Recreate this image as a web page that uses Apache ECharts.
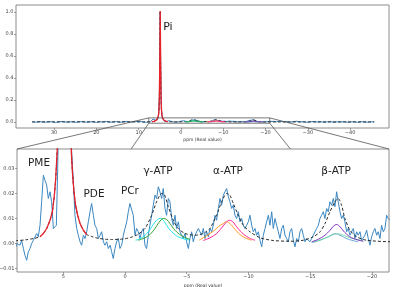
<!DOCTYPE html>
<html>
<head>
<meta charset="utf-8">
<script src="https://cdn.jsdelivr.net/npm/echarts@6/dist/echarts.min.js"></script>
<style>
html, body { margin: 0; padding: 0; background: #fff; }
#chart { width: 400px; height: 287px; }
</style>
</head>
<body>
<div id="chart"></div>
<script>
// measured spectrum, [ppm, intensity]
var blueOuterLeft = [[35.2,0.002],[34.4,-0.003],[33.6,0.004],[32.8,0.000],[32.0,-0.002],[31.2,0.003],[30.4,0.001],
  [29.6,-0.004],[28.8,0.002],[28.0,0.005],[27.2,-0.001],[26.4,0.000],[25.6,0.003],[24.8,-0.003],[24.0,0.002],
  [23.2,0.004],[22.4,-0.002],[21.6,0.001],[20.8,0.003],[20.0,-0.004],[19.2,0.002],[18.4,0.000],[17.6,0.005],
  [16.8,-0.002],[16.0,0.001],[15.2,0.004],[14.4,-0.003],[13.6,0.002],[12.8,0.006],[12.0,-0.001],[11.2,0.003],
  [10.4,0.004],[9.6,0.007]];
var blueZoom = [[8.91,-0.0020],[8.72,0.0000],[8.64,0.0007],[8.50,-0.0007],[8.37,0.0013],[8.23,-0.0020],[8.10,-0.0047],
  [7.96,-0.0067],[7.83,-0.0033],[7.69,-0.0020],[7.56,0.0000],[7.42,0.0013],[7.29,0.0007],[7.15,0.0040],[7.02,0.0027],
  [6.88,0.0073],[6.75,0.0167],[6.61,0.0273],[6.48,0.0253],[6.34,0.0233],[6.21,0.0180],[6.07,0.0207],[5.94,0.0167],
  [5.80,0.0060],[5.67,0.0060],[5.56,0.0073],[5.45,0.030],[5.4,0.045],[5.3,0.065],[5.2,0.11],[5.1,0.23],[5.0,0.55],
  [4.9,1.0],[4.8,0.55],[4.7,0.23],[4.6,0.11],[4.5,0.065],[4.4,0.045],[4.32,0.0367],[4.18,0.0247],[4.05,0.0113],[3.91,0.0060],
  [3.78,0.0033],[3.64,0.0007],[3.51,-0.0007],[3.37,0.0033],[3.24,0.0020],[3.10,0.0047],[2.97,0.0087],[2.83,0.0127],
  [2.70,0.0160],[2.56,0.0113],[2.43,0.0073],[2.29,0.0060],[2.16,0.0020],[2.02,0.0033],[1.89,0.0047],[1.75,0.0007],
  [1.62,-0.0007],[1.48,0.0007],[1.35,-0.0020],[1.20,-0.0007],[1.08,-0.0033],[0.95,-0.0060],[0.81,-0.0020],[0.68,0.0007],
  [0.54,0.0020],[0.41,-0.0020],[0.27,-0.0007],[0.13,0.0033],[0.00,0.0060],[-0.14,0.0087],[-0.27,0.0127],[-0.40,0.0160],
  [-0.54,0.0167],[-0.67,0.0113],[-0.81,0.0033],[-0.94,0.0060],[-1.08,0.0047],[-1.21,0.0020],[-1.35,0.0047],[-1.48,0.0060],
  [-1.62,-0.0007],[-1.75,-0.0020],[-1.89,0.0033],[-2.02,0.0073],[-2.16,0.0113],[-2.29,0.0153],[-2.43,0.0193],[-2.56,0.0180],
  [-2.70,0.0227],[-2.83,0.0207],[-2.97,0.0180],[-3.10,0.0220],[-3.24,0.0140],[-3.37,0.0113],[-3.51,0.0180],[-3.64,0.0167],
  [-3.78,0.0100],[-3.91,0.0073],[-4.05,0.0113],[-4.18,0.0060],[-4.32,0.0087],[-4.45,0.0047],[-4.59,0.0033],[-4.72,0.0020],
  [-4.86,0.0040],[-4.99,0.0007],[-5.13,-0.0020],[-5.26,0.0020],[-5.40,0.0047],[-5.53,0.0007],[-5.67,0.0033],[-5.94,0.0060],
  [-6.07,0.0053],[-6.21,0.0033],[-6.34,0.0060],[-6.48,0.0020],[-6.61,0.0047],[-6.75,0.0027],[-6.88,0.0060],[-7.02,0.0047],
  [-7.15,0.0073],[-7.29,0.0113],[-7.42,0.0093],[-7.56,0.0140],[-7.69,0.0180],[-7.83,0.0153],[-7.96,0.0193],[-8.10,0.0207],
  [-8.23,0.0220],[-8.37,0.0187],[-8.50,0.0167],[-8.64,0.0140],[-8.77,0.0153],[-8.91,0.0113],[-9.04,0.0100],[-9.18,0.0127],
  [-9.31,0.0087],[-9.45,0.0100],[-9.58,0.0073],[-9.72,0.0060],[-9.85,0.0073],[-9.99,0.0087],[-10.12,0.0113],[-10.26,0.0073],
  [-10.39,0.0047],[-10.53,0.0060],[-10.66,0.0033],[-10.80,0.0047],[-10.93,0.0013],[-11.07,-0.0013],[-11.20,0.0033],
  [-11.34,0.0060],[-11.47,0.0087],[-11.61,0.0113],[-11.74,0.0073],[-11.88,0.0127],[-12.01,0.0060],[-12.15,0.0100],
  [-12.28,0.0073],[-12.42,0.0047],[-12.55,0.0020],[-12.69,0.0060],[-12.82,0.0073],[-12.96,0.0033],[-13.09,0.0020],
  [-13.23,0.0007],[-13.36,0.0047],[-13.50,0.0060],[-13.63,0.0013],[-13.77,-0.0013],[-13.90,0.0020],[-14.04,0.0007],
  [-14.17,0.0047],[-14.31,0.0060],[-14.44,0.0033],[-14.58,0.0007],[-14.71,0.0020],[-14.85,0.0027],[-14.98,0.0007],
  [-15.12,0.0020],[-15.25,0.0033],[-15.39,0.0047],[-15.52,0.0060],[-15.66,0.0073],[-15.79,0.0100],[-15.92,0.0113],
  [-16.06,0.0127],[-16.19,0.0100],[-16.33,0.0140],[-16.46,0.0127],[-16.60,0.0167],[-16.73,0.0153],[-16.87,0.0180],
  [-17.00,0.0147],[-17.14,0.0207],[-17.27,0.0167],[-17.41,0.0127],[-17.54,0.0100],[-17.68,0.0113],[-17.81,0.0087],
  [-17.95,0.0047],[-18.08,0.0060],[-18.22,0.0033],[-18.35,0.0047],[-18.49,0.0060],[-18.62,0.0020],[-18.76,0.0047],
  [-18.89,0.0033],[-19.03,0.0047],[-19.16,0.0013],[-19.30,0.0020],[-19.43,0.0033],[-19.57,0.0053],[-19.70,0.0020],
  [-19.84,-0.0007],[-19.97,0.0027],[-20.11,0.0047],[-20.24,0.0060],[-20.38,0.0033],[-20.51,0.0047],[-20.65,0.0020],
  [-20.78,0.0073],[-20.92,0.0047],[-21.05,0.0060],[-21.19,0.0113],[-21.32,0.0100],[-21.46,0.0093]];
var blueOuterRight = [[-21.8,0.006],[-22.6,0.003],[-23.4,0.008],[-24.2,0.002],[-25.0,0.005],[-25.8,-0.002],[-26.6,0.004],
  [-27.4,0.007],[-28.2,0.001],[-29.0,0.003],[-29.8,-0.003],[-30.6,0.002],[-31.4,0.005],[-32.2,0.000],[-33.0,0.003],
  [-33.8,-0.002],[-34.6,0.001],[-35.4,0.004],[-36.2,-0.003],[-37.0,0.002],[-37.8,0.000],[-38.6,0.003],[-39.4,-0.002],
  [-40.2,0.001],[-41.0,0.002],[-41.8,-0.003],[-42.6,0.003],[-43.4,0.000],[-44.2,-0.002],[-45.0,0.002],[-45.7,0.001]];

// fits
var fitPi = [[6.88,0.0027],[6.61,0.0040],[6.34,0.0060],[6.07,0.0093],[5.88,0.0127],[5.72,0.0193],[5.61,0.0260],
  [5.48,0.0380],[5.4,0.045],[5.3,0.065],[5.2,0.11],[5.1,0.23],[5.0,0.55],[4.9,1.01],[4.8,0.55],[4.7,0.23],[4.6,0.11],
  [4.5,0.065],[4.4,0.045],[4.32,0.034],[4.24,0.0273],[4.13,0.0207],[4.0,0.0153],[3.83,0.0113],[3.64,0.0080],
  [3.37,0.0053],[3.10,0.0036]];
var fitTotalLeft = [[35.2,0.0010],[8.91,0.0011],[8.0,0.0015],[7.4,0.0020]];
var fitTotalRight = [[2.7,0.0028],[2.2,0.0021],[1.6,0.0017],[1.0,0.0016],[0.4,0.0017],[0.0,0.0019],
  [-0.5,0.0025],[-1.0,0.0035],[-1.62,0.0060],[-2.16,0.0113],[-2.56,0.0167],[-2.97,0.0200],[-3.2,0.0195],
  [-3.51,0.0147],[-3.91,0.0093],[-4.32,0.0060],[-4.86,0.0040],[-5.67,0.0033],[-6.07,0.0036],[-6.5,0.0045],
  [-6.88,0.0060],[-7.42,0.0113],[-7.83,0.0167],[-8.23,0.0200],[-8.5,0.0193],[-8.77,0.0160],[-9.18,0.0113],
  [-9.58,0.0073],[-10.12,0.0047],[-10.93,0.0023],[-12.0,0.0012],[-13.36,0.0009],[-14.44,0.0013],[-15.25,0.0027],
  [-15.8,0.0047],[-16.2,0.0080],[-16.6,0.0127],[-17.0,0.0167],[-17.27,0.0180],[-17.54,0.0153],[-17.81,0.0100],
  [-18.22,0.0053],[-18.76,0.0027],[-19.57,0.0013],[-21.6,0.0007],[-45.7,0.0006]];
var gammaA = [[-0.86,0.0013],[-1.35,0.0023],[-1.89,0.0047],[-2.29,0.0076],[-2.56,0.0093],[-2.83,0.0100],
  [-3.10,0.0093],[-3.37,0.0073],[-3.78,0.0047],[-4.32,0.0027],[-4.86,0.0017],[-5.26,0.0013]];
var gammaB = [[-1.08,0.0013],[-1.62,0.0023],[-2.02,0.0036],[-2.43,0.0060],[-2.75,0.0084],[-3.10,0.0100],
  [-3.37,0.0096],[-3.64,0.0080],[-4.05,0.0053],[-4.59,0.0031],[-5.26,0.0016]];
var alphaA = [[-6.0,0.0013],[-6.61,0.0031],[-7.15,0.0049],[-7.56,0.0067],[-7.96,0.0080],[-8.23,0.0087],
  [-8.50,0.0080],[-8.91,0.0057],[-9.31,0.0036],[-9.85,0.0020],[-10.26,0.0013]];
var alphaB = [[-6.34,0.0012],[-6.88,0.0023],[-7.42,0.0040],[-7.83,0.0063],[-8.18,0.0084],[-8.45,0.0093],
  [-8.72,0.0087],[-9.04,0.0067],[-9.45,0.0044],[-9.99,0.0024],[-10.53,0.0013]];
var betaA = [[-15.12,0.0007],[-15.66,0.0017],[-16.19,0.0033],[-16.60,0.0053],[-16.92,0.0071],[-17.14,0.0076],
  [-17.41,0.0067],[-17.81,0.0044],[-18.35,0.0023],[-19.30,0.0009]];
var betaB = [[-15.12,0.0003],[-15.79,0.0013],[-16.46,0.0027],[-17.0,0.0039],[-17.41,0.0033],[-18.08,0.0017],
  [-18.89,0.0007]];
var betaC = [[-15.25,0.0005],[-15.92,0.0016],[-16.6,0.0029],[-17.14,0.0039],[-17.54,0.0036],[-18.22,0.0023],
  [-19.3,0.0011]];

// zoom window shown on the full spectrum
var zoomBox = [[7.6,-0.011],[7.6,0.0375],[-21.0,0.0375],[-21.0,-0.011],[7.6,-0.011]];

var topXTicks = [30, 20, 10, 0, -10, -20, -30, -40];
var topYTicks = [0, 0.2, 0.4, 0.6, 0.8, 1.0];
var botXTicks = [5, 0, -5, -10, -15, -20];
var botYTicks = [-0.01, 0, 0.01, 0.02, 0.03];

var peakLabels = [
  { text: 'PME', at: [6.96, 0.0322] },
  { text: 'PDE', at: [2.51, 0.0198] },
  { text: 'PCr', at: [-0.40, 0.0210] },
  { text: 'γ-ATP', at: [-2.67, 0.0290] },
  { text: 'α-ATP', at: [-8.34, 0.0290] },
  { text: 'β-ATP', at: [-17.09, 0.0290] }
];

var FONT = 'DejaVu Sans';
var minus = function (s) { return String(s).replace('-', '\u2212'); };
var fitTotal = fitTotalLeft.concat(fitPi, fitTotalRight);

function xAx(gi, min, max, ticks, gap) {
  return {
    type: 'value', gridIndex: gi, inverse: true, min: min, max: max,
    name: 'ppm (Real value)', nameLocation: 'middle', nameGap: gap,
    nameTextStyle: { fontSize: 4.5, color: '#333', fontFamily: FONT },
    axisLine: { show: false, onZero: false }, splitLine: { show: false },
    axisTick: { show: true, length: 2, customValues: ticks, lineStyle: { color: '#666', width: 0.6 } },
    axisLabel: { customValues: ticks, fontSize: 5, color: '#444', margin: 2.5, fontFamily: FONT,
      formatter: function (v) { return minus(v); } }
  };
}
function yAx(gi, min, max, ticks, fmt, name) {
  return {
    type: 'value', gridIndex: gi, min: min, max: max,
    name: name || '', nameLocation: 'middle', nameGap: 12,
    nameTextStyle: { fontSize: 4.5, color: '#333', fontFamily: FONT },
    axisLine: { show: false, onZero: false }, splitLine: { show: false },
    axisTick: { show: true, length: 2, customValues: ticks, lineStyle: { color: '#666', width: 0.6 } },
    axisLabel: { customValues: ticks, fontSize: 5, color: '#444', margin: 2.5, fontFamily: FONT,
      formatter: function (v) { return minus(v.toFixed(fmt)); } }
  };
}
function line(data, gi, color, width, extra) {
  return Object.assign({
    type: 'line', xAxisIndex: gi, yAxisIndex: gi, data: data, symbol: 'none', silent: true,
    lineStyle: { color: color, width: width }
  }, extra || {});
}

var C = { blue: '#3a87c2', red: '#e8212b', black: '#2b2b2b', cyan: '#19e6f0', green: '#2ea02f',
  orange: '#ff9a1f', pink: '#ff1e96', purple: '#7a2fb8', teal: '#5a9fd6', mint: '#74d6a6' };

var seriesFor = function (gi) {
  var s = [];
  s.push(line(gi === 0 ? blueOuterLeft.concat(blueZoom, blueOuterRight) : blueZoom, gi, C.blue, 1));
  s.push(line(fitTotal, gi, C.black, 1, { lineStyle: { color: C.black, width: 1, type: [3, 2] }, smooth: 0.25 }));
  s.push(line(fitPi, gi, C.red, 1.3));
  s.push(line(gammaA, gi, C.cyan, 1, { smooth: 0.4 }));
  s.push(line(gammaB, gi, C.green, 1, { smooth: 0.4 }));
  s.push(line(alphaA, gi, C.orange, 1, { smooth: 0.4 }));
  s.push(line(alphaB, gi, C.pink, 1, { smooth: 0.4 }));
  s.push(line(betaB, gi, C.teal, 0.9, { smooth: 0.4 }));
  s.push(line(betaC, gi, C.mint, 0.9, { smooth: 0.4 }));
  s.push(line(betaA, gi, C.purple, 1, { smooth: 0.4 }));
  return s;
};

var chart = echarts.init(document.getElementById('chart'), null, { renderer: 'canvas' });
var series = seriesFor(0).concat(seriesFor(1));
series.push(line(zoomBox, 0, '#555', 0.8, { clip: false }));

chart.setOption({
  animation: false,
  backgroundColor: '#fff',
  grid: [
    { left: 16, right: 11, top: 5, bottom: 159, show: true, borderColor: '#8c8c8c', borderWidth: 1,
      outerBoundsMode: 'none', containLabel: false },
    { left: 17, right: 11, top: 149, bottom: 15, show: true, borderColor: '#8c8c8c', borderWidth: 1,
      outerBoundsMode: 'none', containLabel: false }
  ],
  xAxis: [xAx(0, -49.2, 39.0, topXTicks, 9), xAx(1, -21.38, 8.745, botXTicks, 11)],
  yAxis: [yAx(0, -0.0545, 1.064, topYTicks, 1, 'Intensity'), yAx(1, -0.0114, 0.0378, botYTicks, 2)],
  series: series
});

// connectors from the zoom window to the lower panel, labels
var p0 = function (pt) { return chart.convertToPixel({ gridIndex: 0 }, pt); };
var p1 = function (pt) { return chart.convertToPixel({ gridIndex: 1 }, pt); };
var links = [
  [p0(zoomBox[1]), p1([8.745, 0.0378])],
  [p0(zoomBox[0]), p1([-0.5, 0.0378])],
  [p0(zoomBox[2]), p1([-21.38, 0.0378])],
  [p0(zoomBox[3]), p1([-13.4, 0.0378])]
];
var graphic = links.map(function (l) {
  return { type: 'line', z: 100, shape: { x1: l[0][0], y1: l[0][1], x2: l[1][0], y2: l[1][1] },
    style: { stroke: '#555', lineWidth: 0.8 } };
});
peakLabels.forEach(function (lab) {
  var p = p1(lab.at);
  graphic.push({ type: 'text', x: p[0], y: p[1], z: 100,
    style: { text: lab.text, fill: '#222', font: '10.5px "DejaVu Sans"', align: 'center', verticalAlign: 'middle' } });
});
var pi = p0([3.07, 0.86]);
graphic.push({ type: 'text', x: pi[0], y: pi[1], z: 100,
  style: { text: 'Pi', fill: '#222', font: '11px "DejaVu Sans"', align: 'center', verticalAlign: 'middle' } });
chart.setOption({ graphic: graphic });
</script>
</body>
</html>
